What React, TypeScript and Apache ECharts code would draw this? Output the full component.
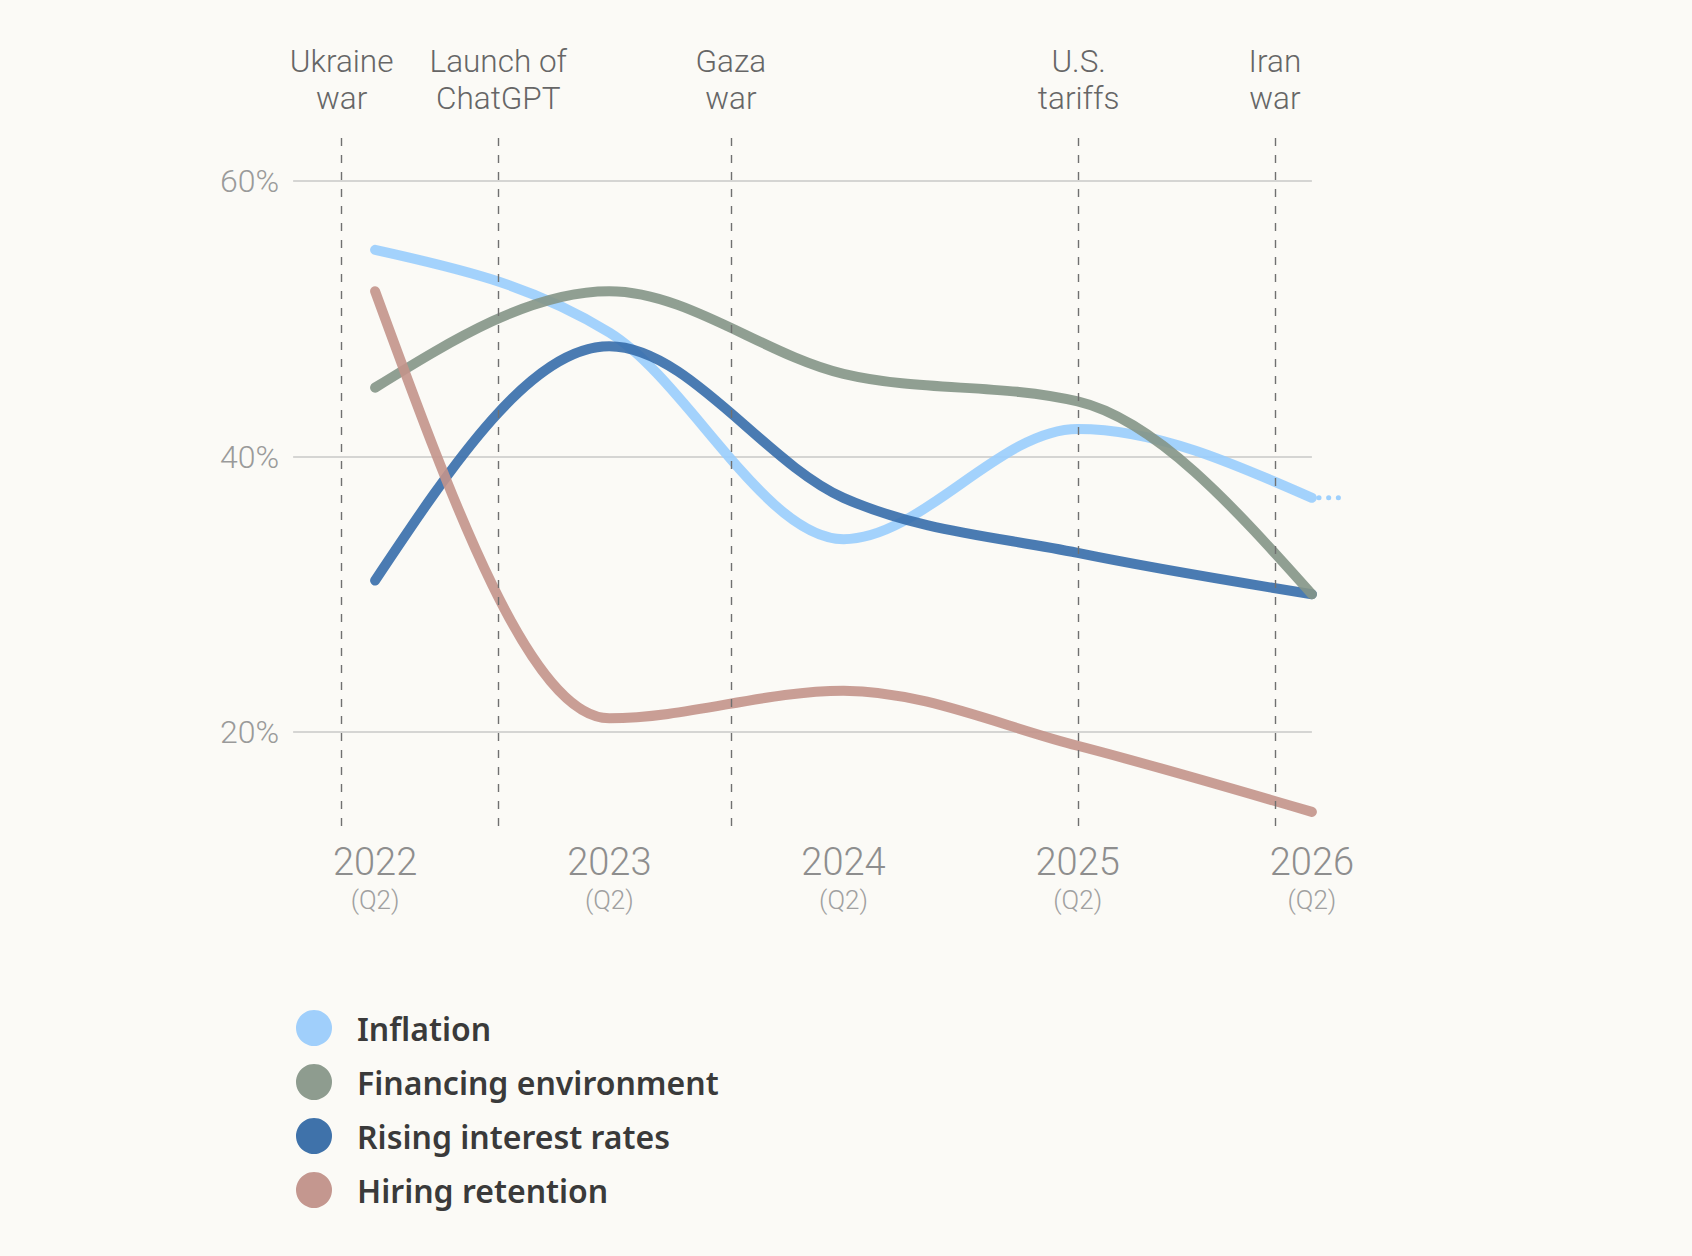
import React, { useEffect, useRef } from "react";
import * as echarts from "echarts";

// ---- data ----
const years = [2022, 2023, 2024, 2025, 2026];
const quarterTag = "(Q2)";
const seriesNames = ["Inflation", "Financing environment", "Rising interest rates", "Hiring retention"];
const inflation = [55, 49, 34, 42, 37];
const financing = [45, 52, 46, 44, 30];
const risingRates = [31, 48, 37, 33, 30];
const hiringRetention = [52, 21, 23, 19, 14.2];
const inflationTailX = [2026.03, 2026.115];
const inflationTailY = [37, 37];

const eventNames = ["Ukraine\nwar", "Launch of\nChatGPT", "Gaza\nwar", "U.S.\ntariffs", "Iran\nwar"];
const eventX = [2021.857, 2022.526, 2023.519, 2025.004, 2025.842];
const eventTop = 63.12;
const eventBottom = 13.1;

const gridValues = [20, 40, 60];
const gridLabels = ["20%", "40%", "60%"];
const gridStartX = 2021.65;
const gridEndX = 2026;

// ---- style ----
const BG = "#fbfaf6";
const FONT = "Roboto";
const lineColors = ["#99cdfd", "#849587", "#366dab", "#c3948b"];
const legendColors = ["#a0cffb", "#8e9c8f", "#3f72aa", "#c4978f"];

// monotone-x cubic (Fritsch–Carlson style, as in d3.curveMonotoneX)
function sgn(x: number) {
  return x < 0 ? -1 : 1;
}
function monotonePath(pts: number[][]): string {
  const n = pts.length;
  if (n < 2) return "";
  const t: number[] = new Array(n).fill(0);
  for (let i = 1; i < n - 1; i++) {
    const [x0, y0] = pts[i - 1];
    const [x1, y1] = pts[i];
    const [x2, y2] = pts[i + 1];
    const h0 = x1 - x0;
    const h1 = x2 - x1;
    const s0 = (y1 - y0) / h0;
    const s1 = (y2 - y1) / h1;
    const p = (s0 * h1 + s1 * h0) / (h0 + h1);
    t[i] = (sgn(s0) + sgn(s1)) * Math.min(Math.abs(s0), Math.abs(s1), 0.5 * Math.abs(p)) || 0;
  }
  if (n > 2) {
    const h = pts[1][0] - pts[0][0];
    t[0] = (3 * (pts[1][1] - pts[0][1]) / h - t[1]) / 2;
    const hl = pts[n - 1][0] - pts[n - 2][0];
    t[n - 1] = (3 * (pts[n - 1][1] - pts[n - 2][1]) / hl - t[n - 2]) / 2;
  } else {
    const s = (pts[1][1] - pts[0][1]) / (pts[1][0] - pts[0][0]);
    t[0] = s;
    t[1] = s;
  }
  let d = `M${pts[0][0]},${pts[0][1]}`;
  for (let i = 0; i < n - 1; i++) {
    const [x0, y0] = pts[i];
    const [x1, y1] = pts[i + 1];
    const dx = (x1 - x0) / 3;
    d += `C${x0 + dx},${y0 + dx * t[i]},${x1 - dx},${y1 - dx * t[i + 1]},${x1},${y1}`;
  }
  return d;
}

function buildOption(): any {
  const mkCurve = (idx: number, values: number[]) => ({
    type: "custom",
    name: seriesNames[idx],
    data: years.map((y, i) => [y, values[i]]),
    encode: { x: 0, y: 1 },
    clip: false,
    silent: true,
    z: 2,
    itemStyle: { color: legendColors[idx] },
    renderItem: (params: any, api: any) => {
      if (params.dataIndex !== 0) return null;
      const pts = years.map((y, i) => api.coord([y, values[i]]));
      return {
        type: "path",
        silent: true,
        shape: { pathData: monotonePath(pts) },
        style: {
          fill: "none",
          stroke: lineColors[idx],
          lineWidth: 10,
          lineCap: "round",
          lineJoin: "round",
          opacity: 0.9,
        },
      };
    },
  });

  const tail = {
    type: "line",
    name: "Inflation (outlook)",
    data: inflationTailX.map((x, i) => [x, inflationTailY[i]]),
    showSymbol: false,
    clip: false,
    z: 2,
    silent: true,
    lineStyle: { color: lineColors[0], width: 5, cap: "round", type: [0.1, 9.6], opacity: 0.95 },
    itemStyle: { color: legendColors[0] },
    emphasis: { disabled: true },
    markLine: {
      silent: true,
      symbol: ["none", "none"],
      z: 1,
      animation: false,
      lineStyle: { color: "#c9c9c7", width: 1.5, type: "solid" },
      label: {
        show: true,
        position: "start",
        distance: 14,
        formatter: "{b}",
        fontFamily: FONT,
        fontWeight: 300,
        fontSize: 32,
        color: "#9a9a9a",
      },
      emphasis: { disabled: true },
      data: gridValues.map((v, i) => [
        { name: gridLabels[i], coord: [gridStartX, v] },
        { coord: [gridEndX, v] },
      ]),
    },
  };

  const events = {
    type: "line",
    name: "events",
    data: [],
    showSymbol: false,
    silent: true,
    z: 10,
    lineStyle: { opacity: 0 },
    markLine: {
      silent: true,
      symbol: ["none", "none"],
      z: 10,
      animation: false,
      lineStyle: { color: "#707070", width: 1.4, type: [8, 9] },
      label: {
        show: true,
        position: "start",
        distance: 21,
        formatter: "{b}",
        fontFamily: FONT,
        fontWeight: 300,
        fontSize: 31.5,
        lineHeight: 37,
        color: "#666666",
      },
      emphasis: { disabled: true },
      data: eventX.map((x, i) => [
        { name: eventNames[i], coord: [x, eventTop] },
        { coord: [x, eventBottom] },
      ]),
    },
  };

  return {
    animation: false,
    backgroundColor: BG,
    textStyle: { fontFamily: FONT },
    grid: {
      left: 258,
      right: 263,
      top: 98.35,
      bottom: 413.8,
      containLabel: false,
      outerBoundsMode: "none",
    },
    xAxis: {
      type: "value",
      min: 2021.5,
      max: 2026.5,
      interval: 0.5,
      axisLine: { show: false },
      axisTick: { show: false },
      splitLine: { show: false },
      axisLabel: {
        margin: 0,
        showMinLabel: true,
        showMaxLabel: true,
        formatter: (v: number) =>
          Math.abs(v - Math.round(v)) < 1e-6 ? `{y|${Math.round(v)}}\n{q|${quarterTag}}` : "",
        rich: {
          y: { fontFamily: FONT, fontWeight: 300, fontSize: 38, lineHeight: 40, color: "#8e8e8e" },
          q: { fontFamily: FONT, fontWeight: 300, fontSize: 26, lineHeight: 36, color: "#a0a0a0" },
        },
      },
    },
    yAxis: {
      type: "value",
      min: 12,
      max: 66,
      show: false,
      splitLine: { show: false },
    },
    legend: {
      data: seriesNames,
      orient: "vertical",
      left: 296,
      top: 1010,
      padding: 0,
      itemWidth: 76,
      itemHeight: 36,
      itemGap: 18,
      icon: "circle",
      selectedMode: false,
      itemStyle: { borderWidth: 0 },
      textStyle: {
        fontFamily: "Noto Sans",
        fontWeight: 600,
        fontSize: 32,
        lineHeight: 36,
        color: "#3a3a3a",
      },
    },
    series: [
      mkCurve(0, inflation),
      mkCurve(2, risingRates),
      mkCurve(1, financing),
      mkCurve(3, hiringRetention),
      tail,
      events,
    ],
  };
}

export default function App() {
  const ref = useRef<HTMLDivElement>(null);
  useEffect(() => {
    document.body.style.margin = "0";
    document.body.style.background = BG;
    const chart = echarts.init(ref.current!, null, { renderer: "svg", width: 1692, height: 1256 });
    chart.setOption(buildOption());
    return () => chart.dispose();
  }, []);
  return (
    <div
      ref={ref}
      style={{ position: "absolute", left: 0, top: 0, width: 1692, height: 1256, background: BG }}
    />
  );
}
